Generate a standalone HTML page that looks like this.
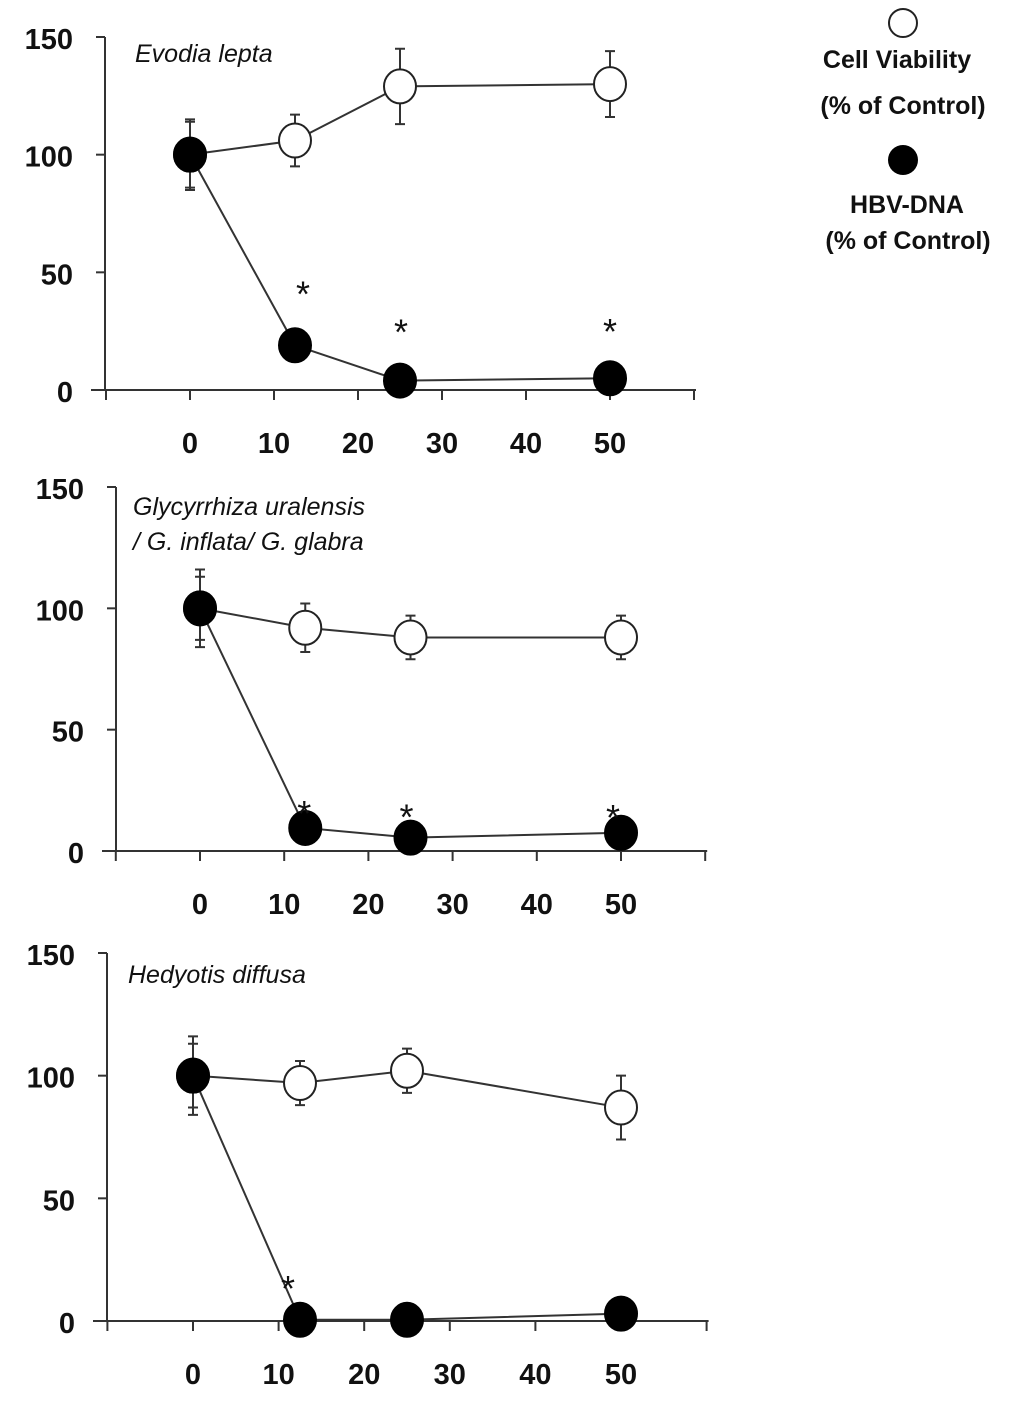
<!DOCTYPE html>
<html><head><meta charset="utf-8"><style>
html,body{margin:0;padding:0;background:#fff}
svg text{font-family:"Liberation Sans",Arial,sans-serif;fill:#111}
</style></head><body>
<svg id="chart" width="1024" height="1398" viewBox="0 0 1024 1398" xmlns="http://www.w3.org/2000/svg">
<g>
<circle cx="903" cy="23" r="14" fill="#fff" stroke="#222" stroke-width="2"/>
<text x="897" y="68" font-size="25" font-weight="bold" text-anchor="middle">Cell Viability</text>
<text x="903" y="114" font-size="25" font-weight="bold" text-anchor="middle">(% of Control)</text>
<circle cx="903" cy="160" r="15" fill="#000"/>
<text x="907" y="213" font-size="25" font-weight="bold" text-anchor="middle">HBV-DNA</text>
<text x="908" y="249" font-size="25" font-weight="bold" text-anchor="middle">(% of Control)</text>
</g>
</svg>
<script>
const concentrations = [0, 12.5, 25, 50];
const xTickLabels = [0, 10, 20, 30, 40, 50];
const yTickLabels = [0, 50, 100, 150];
const titles = [["Evodia lepta"], ["Glycyrrhiza uralensis", "/ G. inflata/ G. glabra"], ["Hedyotis diffusa"]];
const viability = [[100, 106, 129, 130], [100, 92, 88, 88], [100, 97, 102, 87]];
const viabilityErr = [[15, 11, 16, 14], [16, 10, 9, 9], [16, 9, 9, 13]];
const hbv = [[100, 19, 4, 5], [100, 9.5, 5.5, 7.5], [100, 0.5, 0.5, 3]];
const hbvErr = [[14, 0, 0, 0], [13, 0, 0, 0], [13, 0, 0, 0]];
const stars = [[false, true, true, true], [false, true, true, true], [false, true, false, false]];

const layout = [
  {x0:190, x50:610, y0:390, y150:37, axisX:105, starDx:[0,8,1,0], starDy:[0,-39,-36,-34], titleX:135, titleY:62},
  {x0:200, x50:621, y0:851, y150:487, axisX:116, starDx:[0,-1,-4,-8], starDy:[0,-2,-8,-3], titleX:133, titleY:515},
  {x0:193, x50:621, y0:1321, y150:953, axisX:107, starDx:[0,-12,0,0], starDy:[0,-19,0,0], titleX:128, titleY:983}
];
const NS = "http://www.w3.org/2000/svg";
const svg = document.getElementById('chart');
function mk(tag, attrs, parent){
  const e = document.createElementNS(NS, tag);
  for (const k in attrs) e.setAttribute(k, attrs[k]);
  parent.appendChild(e); return e;
}
layout.forEach((L, p) => {
  const xs = v => L.x0 + (v/50)*(L.x50-L.x0);
  const ys = v => L.y0 - (v/150)*(L.y0-L.y150);
  const g = mk('g', {}, svg);
  
  
  const ya = mk('line', {x1:L.axisX, x2:L.axisX, y1:ys(150), y2:ys(0), stroke:'#333', 'stroke-width':2}, g);
  
  
  const xa = mk('line', {x1:L.axisX-14, x2:xs(60)+2, y1:ys(0), y2:ys(0), stroke:'#333', 'stroke-width':2}, g);
  
  
  yTickLabels.forEach(v => {
    mk('line', {x1:L.axisX-9, x2:L.axisX, y1:ys(v), y2:ys(v), stroke:'#333', 'stroke-width':2}, g);
    const t = mk('text', {x:L.axisX-32, y:ys(v)+12, 'font-size':29, 'font-weight':'bold', 'text-anchor':'end'}, g);
    t.textContent = v;
    
    
  });
  [-10,0,10,20,30,40,50,60].forEach(v => {
    mk('line', {x1:xs(v), x2:xs(v), y1:ys(0), y2:ys(0)+10, stroke:'#333', 'stroke-width':2}, g);
  });
  xTickLabels.forEach(v => {
    const t = mk('text', {x:xs(v), y:ys(0)+63, 'font-size':29, 'font-weight':'bold', 'text-anchor':'middle'}, g);
    t.textContent = v;
    
    
  });
  titles[p].forEach((line, i) => {
    const t = mk('text', {x:L.titleX, y:L.titleY + i*35, 'font-size':25, 'font-style':'italic'}, g);
    t.textContent = line;
    
    
  });
  function series(vals, errs, fill, name){
    const pts = concentrations.map((c,i) => xs(c)+','+ys(vals[i])).join(' ');
    const pl = mk('polyline', {points:pts, fill:'none', stroke:'#333', 'stroke-width':2}, g);
    
    
    concentrations.forEach((c,i) => {
      const e = errs[i];
      if (e > 0) {
        const x = xs(c), yt = ys(vals[i]+e), yb = ys(vals[i]-e);
        const eb = mk('path', {d:`M${x},${yt}V${yb}M${x-5},${yt}H${x+5}M${x-5},${yb}H${x+5}`, stroke:'#333', 'stroke-width':2, fill:'none'}, g);
        
        
      }
    });
    concentrations.forEach((c,i) => {
      const m = mk('ellipse', {cx:xs(c), cy:ys(vals[i]), rx:16, ry:17, fill:fill, stroke:fill==='#fff'?'#222':'#000', 'stroke-width':2}, g);
      
      
    });
  }
  series(viability[p], viabilityErr[p], '#fff', 'cell-viability');
  series(hbv[p], hbvErr[p], '#000', 'hbv-dna');
  concentrations.forEach((c,i) => {
    if (!stars[p][i]) return;
    const t = mk('text', {x:xs(c)+L.starDx[i], y:ys(hbv[p][i])+L.starDy[i], 'font-size':36, 'text-anchor':'middle'}, g);
    t.textContent = '*';
    
    
  });
});
</script>
</body></html>
